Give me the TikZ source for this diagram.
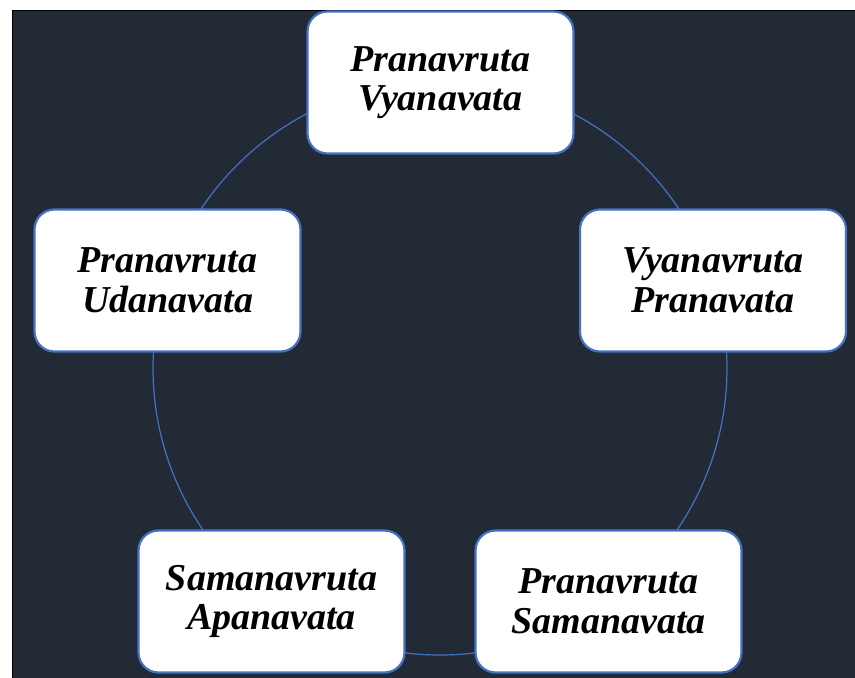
\documentclass[tikz,border=0pt]{standalone}
\usepackage{fontspec}
\setmainfont{Liberation Serif}
\usepackage{tikz}
\usetikzlibrary{positioning}
\definecolor{night}{RGB}{34,42,53}
\definecolor{ring}{RGB}{68,114,196}

\begin{document}
\begin{tikzpicture}[x=0.5pt, y=-0.5pt,
    vata/.style={draw=ring, line width=1.1pt, fill=white, rounded corners=10pt,
                 minimum width=133pt, minimum height=71pt, align=center,
                 font=\fontsize{19}{19.8}\selectfont\bfseries\itshape}]
  \useasboundingbox (0,0) rectangle (855,677);
  \clip (0,0) rectangle (855,677);
  \fill[white] (0,0) rectangle (855,677);
  \filldraw[fill=night, draw=black, line width=0.6pt] (12.5,10.5) rectangle (870,700);

  \coordinate (hub) at (440,368);
  \draw[ring, line width=0.6pt] (hub) circle[radius=143.5pt];

  \node[vata] (pv) at (440.5,82.5)  {Pranavruta\\Vyanavata};
  \node[vata] (vp) at (713,280.5)   {Vyanavruta\\Pranavata};
  \node[vata] (ps) at (608.5,601.5) {Pranavruta\\Samanavata};
  \node[vata] (sa) at (271.5,601.5) {Samanavruta\\Apanavata};
  \node[vata] (pu) at (167.5,280.5) {Pranavruta\\Udanavata};
\end{tikzpicture}
\end{document}
